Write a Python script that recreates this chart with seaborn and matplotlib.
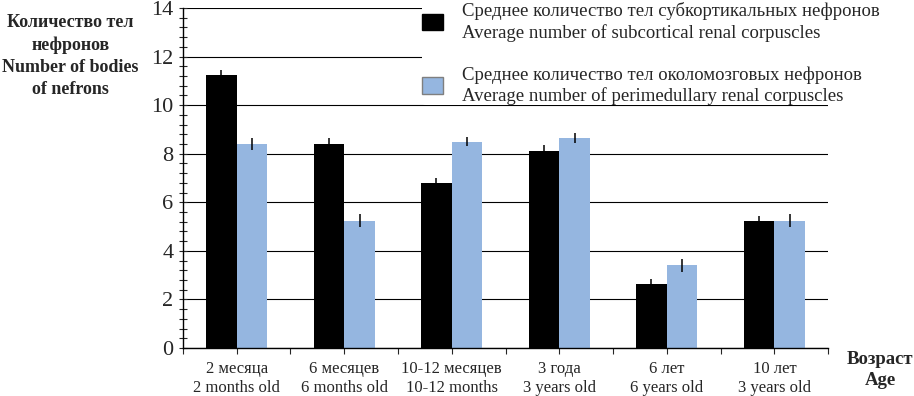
import numpy as np
import pandas as pd
import matplotlib
matplotlib.use("Agg")
import matplotlib.pyplot as plt
import matplotlib.patches as mpatches
from matplotlib.ticker import MultipleLocator
import seaborn as sns

# data
ages = ["2 месяца\n2 months old", "6 месяцев\n6 months old", "10-12 месяцев\n10-12 months",
        "3 года\n3 years old", "6 лет\n6 years old", "10 лет\n3 years old"]
subcortical = [11.25, 8.4, 6.8, 8.1, 2.65, 5.25]
subcortical_err = [0.2, 0.25, 0.2, 0.25, 0.2, 0.2]
perimedullary = [8.4, 5.25, 8.5, 8.65, 3.4, 5.25]
perimedullary_err = [0.25, 0.25, 0.2, 0.22, 0.25, 0.25]
series = ["Среднее количество тел субкортикальных нефронов\nAverage number of subcortical renal corpuscles",
          "Среднее количество тел околомозговых нефронов\nAverage number of perimedullary renal corpuscles"]
colors = ["#000000", "#95B6E0"]

df = pd.DataFrame({
    "age": ages * 2,
    "value": subcortical + perimedullary,
    "series": [series[0]] * len(ages) + [series[1]] * len(ages),
})

sns.set_style("white")
plt.rcParams["font.family"] = ["Liberation Serif", "DejaVu Serif"]

fig = plt.figure(figsize=(9.14, 3.96), dpi=100)
ax = fig.add_axes([0.2002, 0.1212, 0.7058, 0.8586])

sns.barplot(data=df, x="age", y="value", hue="series", order=ages, hue_order=series,
            palette=colors, width=0.57, errorbar=None, saturation=1, legend=False,
            linewidth=0, ax=ax)

# error bars on top of each bar
for cont, errs in zip(ax.containers, [subcortical_err, perimedullary_err]):
    xs = [b.get_x() + b.get_width() / 2 for b in cont]
    ys = [b.get_height() for b in cont]
    ax.errorbar(xs, ys, yerr=errs, fmt="none", ecolor="black", elinewidth=1.1, capsize=0, zorder=5)

ax.set_ylim(0, 14)
ax.set_xlim(-0.5, len(ages) - 0.5)
ax.yaxis.set_major_locator(MultipleLocator(2))
ax.yaxis.set_minor_locator(MultipleLocator(0.4))
ax.set_xticks(np.arange(-0.5, len(ages), 0.5), minor=True)
ax.set_axisbelow(True)
ax.grid(axis="y", color="black", linewidth=0.8)
for s in ["top", "right"]:
    ax.spines[s].set_visible(False)
for s in ["left", "bottom"]:
    ax.spines[s].set_color("black")
    ax.spines[s].set_linewidth(1.0)

ax.tick_params(axis="y", which="both", direction="inout", length=6, width=0.8, labelsize=16, pad=4, left=True)
ax.tick_params(axis="x", which="both", direction="out", length=4, width=0.8, labelsize=12, pad=5, bottom=True)
for lab in ax.get_xticklabels():
    lab.set_linespacing(1.25)
ax.set_xlabel("")
ax.set_ylabel("")

fig.text(0.077, 0.858, "Количество тел\nнефронов\nNumber of bodies\nof nefrons",
         ha="center", va="center", fontsize=13, fontweight="bold", linespacing=1.4)
fig.text(0.963, 0.065, "Возраст\nAge", ha="center", va="center",
         fontsize=13.5, fontweight="bold", linespacing=1.3)

handles = [mpatches.Patch(facecolor=colors[0], edgecolor="black"),
           mpatches.Patch(facecolor=colors[1], edgecolor="#7f7f7f")]
leg = fig.legend(handles, series, loc="upper left", bbox_to_anchor=(0.462, 0.994),
                 frameon=True, facecolor="white", edgecolor="none", framealpha=1,
                 fontsize=13.5, borderpad=0.0, borderaxespad=0, handlelength=1.1,
                 handleheight=0.95, handletextpad=1.0, labelspacing=1.3)
for t in leg.get_texts():
    t.set_linespacing(1.25)

fig.savefig("out.png", dpi=100)
